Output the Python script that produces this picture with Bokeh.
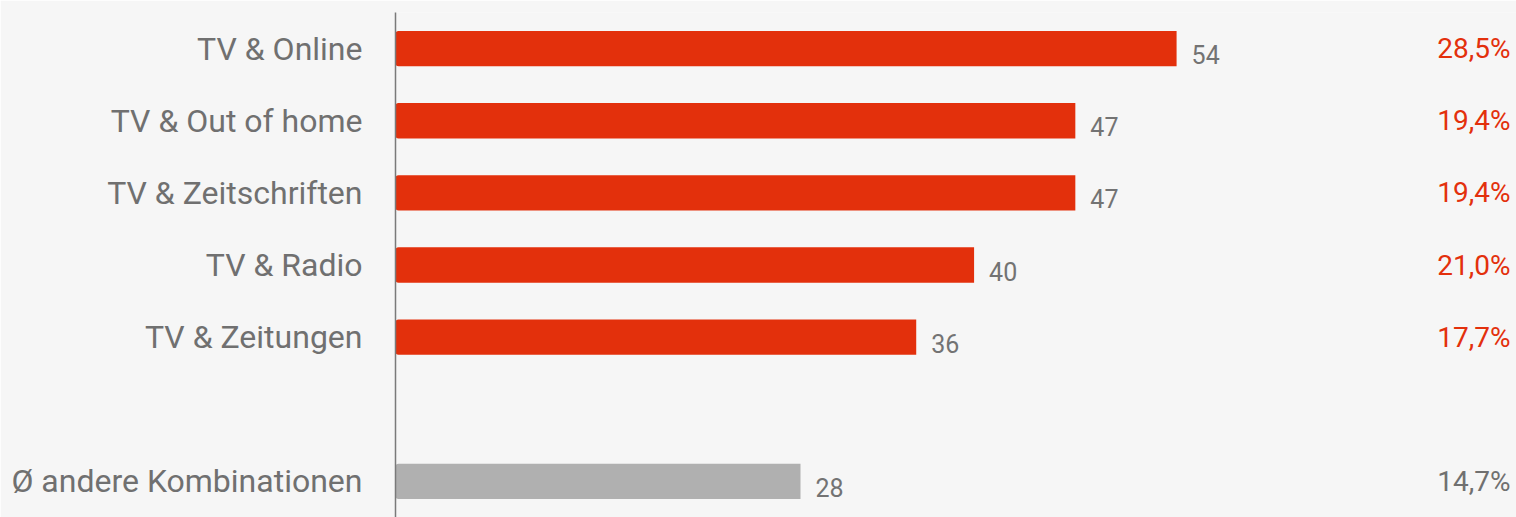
from bokeh.plotting import figure
from bokeh.models import ColumnDataSource, FactorRange, Range1d
from bokeh.embed import file_html
from bokeh.resources import INLINE
from bokeh.core.properties import value

categories = ["TV & Online", "TV & Out of home", "TV & Zeitschriften", "TV & Radio",
              "TV & Zeitungen", " ", "Ø andere Kombinationen"]
values = [54, 47, 47, 40, 36, None, 28]
shares = ["28,5%", "19,4%", "19,4%", "21,0%", "17,7%", "", "14,7%"]
bar_colors = ["#e3300c"] * 5 + ["#ffffff"] + ["#b0b0b0"]
share_colors = ["#e3300c"] * 5 + ["#ffffff"] + ["#707070"]

rows = [i for i, v in enumerate(values) if v is not None]
src = ColumnDataSource(dict(
    cat=[categories[i] for i in rows],
    val=[values[i] for i in rows],
    lab=[str(values[i]) for i in rows],
    share=[shares[i] for i in rows],
    color=[bar_colors[i] for i in rows],
    scolor=[share_colors[i] for i in rows],
))

FONT = "Roboto"
BG = "#f6f6f6"

p = figure(width=1516, height=517, output_backend="svg", toolbar_location=None,
           y_range=FactorRange(factors=list(reversed(categories)), range_padding=0),
           x_range=Range1d(0, 77.5),
           min_border_left=395, min_border_right=0, min_border_top=12, min_border_bottom=0,
           background_fill_color=BG, border_fill_color=BG, outline_line_color=None)

p.hbar(y="cat", right="val", left=0, height=0.49, source=src, color="color",
       line_color=None, border_radius=(3, 0, 0, 3))

p.text(x="val", y="cat", text="lab", source=src, x_offset=15, y_offset=6,
       text_align="left", text_baseline="middle", text_color="#737373",
       text_font=value(FONT), text_font_size="25px")

p.text(x=77.5, y="cat", text="share", source=src, x_offset=-6, y_offset=0,
       text_align="right", text_baseline="middle", text_color="scolor",
       text_font=value(FONT), text_font_size="28px")

p.xaxis.visible = False
p.xgrid.visible = False
p.ygrid.visible = False
ax = p.yaxis[0]
ax.axis_line_color = "#7a7a7a"
ax.axis_line_width = 1.5
ax.major_tick_line_color = None
ax.minor_tick_line_color = None
ax.major_label_standoff = 27
ax.major_label_text_font = FONT
ax.major_label_text_font_size = "32px"
ax.major_label_text_color = "#707070"

open("out.html", "w").write(file_html(p, INLINE))
